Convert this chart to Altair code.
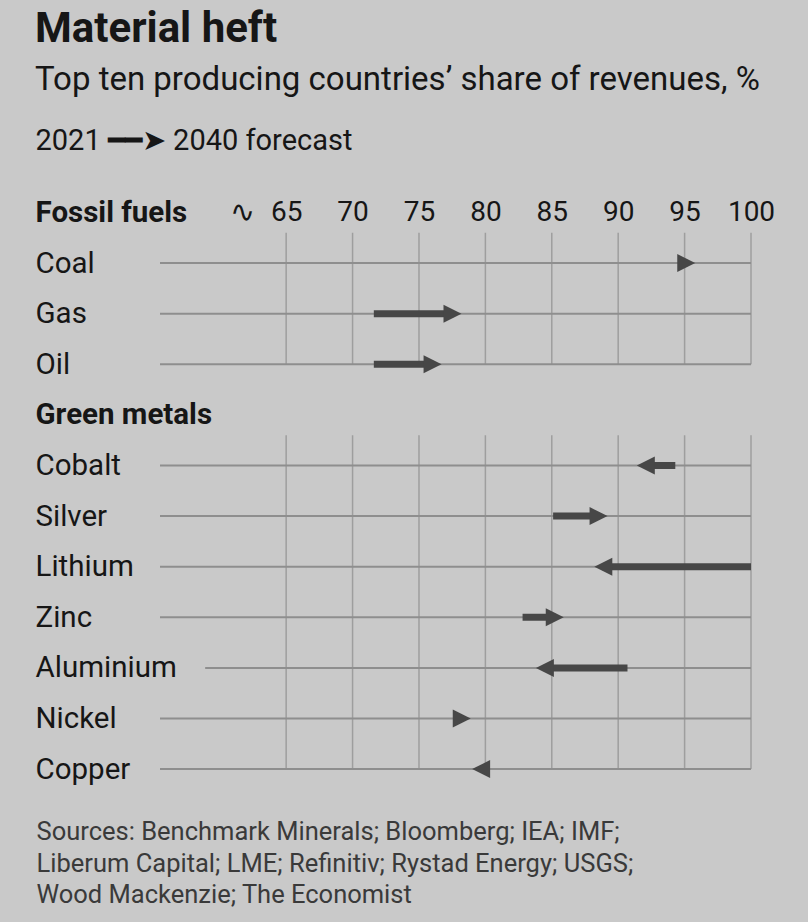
import json
import altair as alt
import pandas as pd

# ---------------- data ----------------
group_names = ["Fossil fuels", "Green metals"]
fossil_items = ["Coal", "Gas", "Oil"]
metal_items = ["Cobalt", "Silver", "Lithium", "Zinc", "Aluminium", "Nickel", "Copper"]
share_2021 = [95.0, 71.6, 71.6, 94.3, 85.1, 100.0, 82.8, 90.7, 77.9, 80.2]
share_2040 = [95.8, 78.2, 76.7, 91.4, 89.2, 88.2, 85.9, 83.8, 78.9, 79.0]
tick_values = [65, 70, 75, 80, 85, 90, 95, 100]
axis_break_at = 61.7
axis_min = 55.5
axis_max = 100
line_start_override = {"Aluminium": 58.9}

title_text = "Material heft"
subtitle_text = "Top ten producing countries\u2019 share of revenues, %"
legend_text = "2021 \u2501\u2501\u27a4 2040 forecast"
source_lines = [
    "Sources: Benchmark Minerals; Bloomberg; IEA; IMF;",
    "Liberum Capital; LME; Refinitiv; Rystad Energy; USGS;",
    "Wood Mackenzie; The Economist",
]

# ---------------- table building ----------------
labels = [group_names[0]] + fossil_items + [group_names[1]] + metal_items
header_rows = [0, len(fossil_items) + 1]
item_names = fossil_items + metal_items
item_rows = [labels.index(n) for n in item_names]

items = pd.DataFrame({
    "name": item_names,
    "row": item_rows,
    "start": share_2021,
    "end": share_2040,
})
items["dir"] = (items["end"] > items["start"]).map({True: 1, False: -1})
items["angle"] = items["dir"].map({1: 0, -1: 180})
items["line_start"] = [line_start_override.get(n, axis_min) for n in item_names]

grid_rows = []
for rows_in_group in ([labels.index(n) for n in fossil_items], [labels.index(n) for n in metal_items]):
    for t in tick_values:
        grid_rows.append({"x": t, "top": min(rows_in_group) - 0.6, "bottom": max(rows_in_group)})
grid = pd.DataFrame(grid_rows)

# ---------------- styling ----------------
FONT = "Roboto"
BG = "#c9c9c9"
TEXT = "#161616"
ARROW = "#474747"
W, H = 591, 607.2
PAD = {"left": 160, "top": 212.5, "right": 57, "bottom": 102.3}

xscale = alt.Scale(domain=[axis_min, axis_max], nice=False, zero=False)
yscale = alt.Scale(domain=[0, 12], nice=False, zero=False, reverse=True)

yaxis = alt.Axis(
    values=list(range(len(labels))),
    labelExpr=f"{json.dumps(labels)}[datum.value]",
    labelAlign="left", labelBaseline="middle", labelPadding=125,
    labelFont=FONT, labelFontSize=29.5, labelColor=TEXT,
    labelFontWeight={"condition": {"test": " || ".join(f"datum.value == {r}" for r in header_rows), "value": "bold"}, "value": "normal"},
    labelOverlap=False, labelLimit=0,
    domain=False, ticks=False, grid=False, title=None,
)

xaxis_top = alt.Axis(
    orient="top", values=[axis_break_at] + tick_values,
    labelExpr=f"datum.value < {tick_values[0]} ? '\u223f' : datum.label",
    labelFont=FONT, labelColor=TEXT, labelBaseline="middle", labelPadding=0,
    labelFontSize={"condition": {"test": f"datum.value < {tick_values[0]}", "value": 30}, "value": 28},
    labelFlush=False, labelOverlap=False,
    domain=False, ticks=False, tickSize=0, grid=False,
    title=legend_text, titleFont=FONT, titleFontSize=29, titleFontWeight="normal", titleColor=TEXT,
    titleAlign="left", titleAnchor="start", titleBaseline="middle", titleAngle=0,
    titleX=-125, titleY=-72,
)

xaxis_bottom = alt.Axis(
    orient="bottom", labels=False, domain=False, ticks=False, tickSize=0, grid=False,
    title=source_lines, titleFont=FONT, titleFontSize=25.5, titleFontWeight="normal",
    titleColor="#3a3a3a", titleAlign="left", titleAnchor="start", titleBaseline="top",
    titleX=-124, titleY=0, titleLineHeight=31.5,
)

# ---------------- layers ----------------
gridlines = alt.Chart(grid).mark_rule(color="#9e9e9e", strokeWidth=1.5).encode(
    x=alt.X("x:Q", scale=xscale, axis=xaxis_bottom),
    y=alt.Y("top:Q", scale=yscale, axis=yaxis),
    y2="bottom:Q",
)

row_lines = alt.Chart(items).mark_rule(color="#8e8e8e", strokeWidth=2).encode(
    x=alt.X("line_start:Q", scale=xscale, axis=xaxis_top),
    x2=alt.X2(datum=axis_max),
    y=alt.Y("row:Q", scale=yscale, axis=yaxis),
)

shafts = alt.Chart(items).transform_calculate(
    shaft_end="datum.end - datum.dir * 0.6"
).mark_rule(color=ARROW, strokeWidth=7, strokeCap="butt").encode(
    x=alt.X("start:Q", scale=xscale, axis=None),
    x2="shaft_end:Q",
    y=alt.Y("row:Q", scale=yscale, axis=yaxis),
)

heads = alt.Chart(items).mark_point(
    shape="M0,0L-1,-0.5L-1,0.5Z", filled=True, size=1296, color=ARROW, opacity=1, strokeWidth=0
).encode(
    x=alt.X("end:Q", scale=xscale, axis=None),
    y=alt.Y("row:Q", scale=yscale, axis=yaxis),
    angle=alt.Angle("angle:Q", scale=None),
)

chart = alt.layer(gridlines, row_lines, shafts, heads).resolve_axis(x="independent").properties(
    width=W, height=H,
    autosize=alt.AutoSizeParams(type="none"),
    padding=PAD,
    background=BG,
    title=alt.TitleParams(
        text=title_text, subtitle=subtitle_text,
        font=FONT, fontSize=42, fontWeight="bold", color=TEXT,
        subtitleFont=FONT, subtitleFontSize=33, subtitleColor=TEXT,
        subtitlePadding=13, anchor="start", frame="group", dx=-125, offset=29,
    ),
).configure_view(stroke=None)

chart.save("out.html", embed_options={"renderer": "svg", "actions": False})
